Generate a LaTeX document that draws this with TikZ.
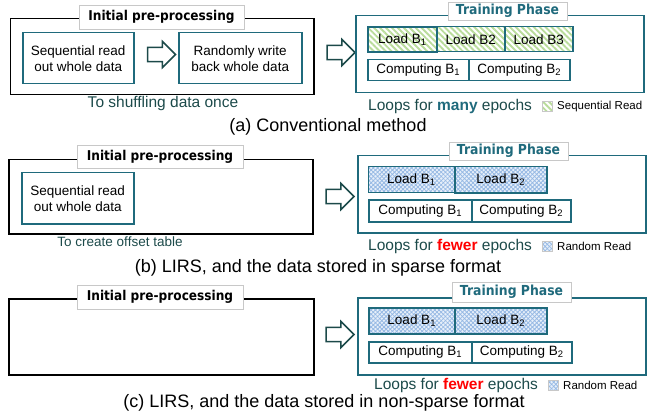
\documentclass[tikz,border=0pt]{standalone}
\usepackage{fontspec}
\setmainfont{Liberation Sans}
\newfontfamily\titlefont[FakeStretch=0.9]{DejaVu Sans}
\usetikzlibrary{shapes.arrows,patterns,patterns.meta}
\definecolor{teal1}{RGB}{31,106,124}
\definecolor{dteal}{RGB}{28,74,74}
\definecolor{grn}{RGB}{185,220,155}
\definecolor{bfill}{RGB}{232,240,250}
\definecolor{bpat}{RGB}{150,185,228}
\definecolor{lgray}{RGB}{200,200,200}
\tikzset{
  outerbox/.style={draw=black, line width=1.5pt, anchor=north west, inner sep=0pt},
  tealbox/.style={draw=teal1, line width=1.5pt, anchor=north west, inner sep=0pt, align=center,
    font=\fontsize{13.5}{16}\selectfont},
  cellbox/.style={draw=teal1, line width=1.5pt, anchor=north west, inner sep=0pt,
    font=\fontsize{13.5}{16}\selectfont},
  seqfill/.style={pattern={Lines[angle=-45,distance=4.2pt,line width=1.9pt]}, pattern color=grn},
  rndfill/.style={preaction={fill=bfill},
    preaction={pattern={Lines[angle=45,distance=3pt,line width=0.8pt]}, pattern color=bpat},
    pattern={Lines[angle=-45,distance=3pt,line width=0.8pt]}, pattern color=bpat},
  initlabel/.style={draw=lgray, line width=0.6pt, fill=white, inner sep=0pt,
    font=\titlefont\bfseries\fontsize{13.5}{16}\selectfont, text=black},
  trainlabel/.style={draw=lgray, line width=0.6pt, fill=white, inner sep=0pt,
    font=\titlefont\bfseries\fontsize{13.8}{16}\selectfont, text=teal1},
  hollow/.style={single arrow, draw=dteal, line width=1.5pt, fill=white, inner sep=6.3pt,
    minimum height=28pt, single arrow head extend=6pt, single arrow tip angle=90},
  note/.style={inner sep=0pt, text=dteal, font=\fontsize{15.5}{18}\selectfont},
  smallnote/.style={inner sep=0pt, text=dteal, font=\fontsize{13.5}{16}\selectfont},
  legtext/.style={inner sep=0pt, anchor=west, font=\fontsize{11.5}{13}\selectfont, text=black},
  legbox/.style={draw=lgray, line width=0.5pt, anchor=north west, inner sep=0pt,
    minimum width=10pt, minimum height=10pt},
  caption/.style={inner sep=0pt, font=\fontsize{18}{21}\selectfont, text=black}
}
\begin{document}
\begin{tikzpicture}[x=1pt,y=-1pt]
\useasboundingbox (0,0) rectangle (647,414);
% ---------------- panel (a)
\node[outerbox, minimum width=303.5pt, minimum height=76pt] (pa) at (9.5,18) {};
\node[initlabel, minimum width=165pt, minimum height=24pt] (la) at (161.5,17) {Initial pre-processing};
\node[tealbox, minimum width=111pt, minimum height=51pt] (sa) at (22,32) {Sequential read\\out whole data};
\node[tealbox, minimum width=123pt, minimum height=51pt] (wa) at (178,32) {Randomly write\\back whole data};
\node[hollow] (aa) at (158,54.5) {};
\node[note] (ta) at (163,103) {To shuffling data once};
\node[hollow] (ara) at (337.5,52.5) {};
\node[outerbox, draw=teal1, minimum width=288pt, minimum height=77pt] (tra) at (355,15) {};
\node[trainlabel, minimum width=119pt, minimum height=18pt] (tla) at (507.5,11) {Training Phase};
\node[cellbox, seqfill, minimum width=69pt, minimum height=25pt] (la1) at (367,26) {Load B\textsubscript{1}};
\node[cellbox, seqfill, minimum width=68pt, minimum height=25pt] (la2) at (436,26) {Load B2};
\node[cellbox, seqfill, minimum width=68pt, minimum height=25pt] (la3) at (504,26) {Load B3};
\node[cellbox, minimum width=101pt, minimum height=21pt] (ca1) at (367,59) {Computing B\textsubscript{1}};
\node[cellbox, minimum width=101pt, minimum height=21pt] (ca2) at (468,59) {Computing B\textsubscript{2}};
\node[note, anchor=west] (lpa) at (368,106) {Loops for \textcolor{teal1}{\textbf{many}} epochs};
\node[legbox, seqfill] (lga) at (542,101) {};
\node[legtext] (lta) at (557,106.5) {Sequential Read};
\node[caption] (cpa) at (328,127) {(a) Conventional method};
% ---------------- panel (b)
\node[outerbox, minimum width=304pt, minimum height=74pt] (pb) at (8,159) {};
\node[initlabel, minimum width=166pt, minimum height=23pt] (lb) at (160,156.5) {Initial pre-processing};
\node[tealbox, minimum width=112pt, minimum height=51pt] (sb) at (21,172) {Sequential read\\out whole data};
\node[smallnote] (tb) at (120,242) {To create offset table};
\node[hollow] (arb) at (336.5,196.5) {};
\node[outerbox, draw=teal1, minimum width=288pt, minimum height=77pt] (trb) at (357,155) {};
\node[trainlabel, minimum width=119pt, minimum height=18pt] (tlb) at (508.5,151) {Training Phase};
\node[cellbox, rndfill, minimum width=86pt, minimum height=26pt] (lb1) at (368,166) {Load B\textsubscript{1}};
\node[cellbox, rndfill, minimum width=92pt, minimum height=26pt] (lb2) at (454,166) {Load B\textsubscript{2}};
\node[cellbox, minimum width=103pt, minimum height=22pt] (cb1) at (368,199) {Computing B\textsubscript{1}};
\node[cellbox, minimum width=99pt, minimum height=22pt] (cb2) at (471,199) {Computing B\textsubscript{2}};
\node[note, anchor=west] (lpb) at (368,246) {Loops for \textcolor{red}{\textbf{fewer}} epochs};
\node[legbox, rndfill] (lgb) at (542,241) {};
\node[legtext] (ltb) at (557,246.5) {Random Read};
\node[caption] (cpb) at (318,268) {(b) LIRS, and the data stored in sparse format};
% ---------------- panel (c)
\node[outerbox, minimum width=305pt, minimum height=76pt] (pc) at (8,298) {};
\node[initlabel, minimum width=166pt, minimum height=24pt] (lc) at (160,297) {Initial pre-processing};
\node[hollow] (arc) at (336.5,334.5) {};
\node[outerbox, draw=teal1, minimum width=288pt, minimum height=77pt] (trc) at (357,297) {};
\node[trainlabel, minimum width=119pt, minimum height=20pt] (tlc) at (511.5,292) {Training Phase};
\node[cellbox, rndfill, minimum width=86pt, minimum height=26pt] (lc1) at (368,307) {Load B\textsubscript{1}};
\node[cellbox, rndfill, minimum width=92pt, minimum height=26pt] (lc2) at (454,307) {Load B\textsubscript{2}};
\node[cellbox, minimum width=103pt, minimum height=21pt] (cc1) at (368,341) {Computing B\textsubscript{1}};
\node[cellbox, minimum width=100pt, minimum height=21pt] (cc2) at (471,341) {Computing B\textsubscript{2}};
\node[note, anchor=west] (lpc) at (374,385) {Loops for \textcolor{red}{\textbf{fewer}} epochs};
\node[legbox, rndfill] (lgc) at (548,380) {};
\node[legtext] (ltc) at (563,385.5) {Random Read};
\node[caption] (cpc) at (324,403) {(c) LIRS, and the data stored in non-sparse format};
\end{tikzpicture}
\end{document}
